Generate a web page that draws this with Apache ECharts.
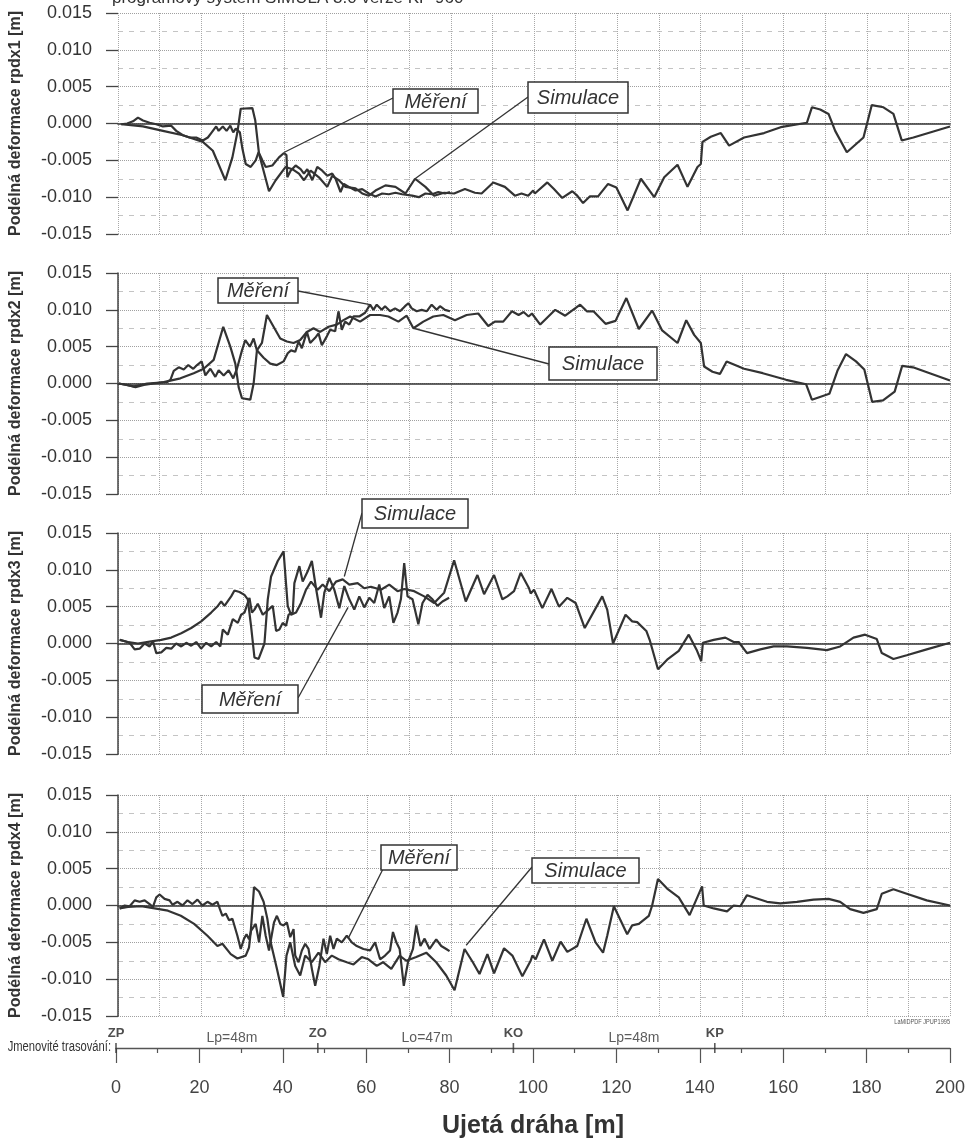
<!DOCTYPE html>
<html><head><meta charset="utf-8">
<script src="https://cdn.jsdelivr.net/npm/echarts@6/dist/echarts.min.js"></script>
<style>html,body{margin:0;padding:0;background:#fff}#c{width:968px;height:1141px}</style>
</head><body><div id="c"></div>
<script>
// ---------- DATA ----------
const yTickMin = -0.015, yTickMax = 0.015, yTickStep = 0.005;
const xMin = 0, xMax = 200;
const yNames = ['Podélná deformace rpdx1 [m]','Podélná deformace rpdx2 [m]','Podélná deformace rpdx3 [m]','Podélná deformace rpdx4 [m]'];
const titleText = 'programový systém SIMULA 3.0 verze KP 960';
const xTitle = 'Ujetá dráha [m]';
const stationNames = ['ZP','ZO','KO','KP'];
const stationPos = [0, 48.4, 95.3, 143.6];
const sectionNames = ['Lp=48m','Lo=47m','Lp=48m'];
const sectionPos = [27.8, 74.6, 124.2];

const sim1 = [[0.8,-0.0001],[6,-0.0004],[10.8,-0.001],[15.6,-0.0016],[20.4,-0.0025],[22.8,-0.0037],[25.8,-0.0077],[27.5,-0.0046],[28.7,-0.0012],[29.5,0.002],[32.3,0.0021],[33,0.0004],[33.9,-0.0041],[36.3,-0.0092],[37.9,-0.0077],[40.3,-0.0059],[41.9,-0.0062],[43.5,-0.0068],[44.7,-0.0077],[46.3,-0.0064],[48.3,-0.0073],[50.3,-0.0086],[51.5,-0.0071],[53.1,-0.0077],[54.7,-0.0086],[57.1,-0.0088],[58.7,-0.0095],[60.3,-0.0098],[61.9,-0.0091],[64.3,-0.0084],[66.7,-0.0086],[69.1,-0.0095],[71.4,-0.0075],[73.9,-0.0086],[76,-0.0098],[78.4,-0.0094],[80.8,-0.0095],[83.4,-0.0089],[85.8,-0.0094],[87.4,-0.0095],[90.2,-0.008],[93,-0.0086],[95.4,-0.0098],[97,-0.0095],[98.6,-0.0098],[99.8,-0.0091],[100.2,-0.0095],[103.2,-0.008],[104.8,-0.0089],[106.8,-0.0101],[109.2,-0.0092],[110.4,-0.0098],[111.8,-0.0108],[113.4,-0.0099],[115.4,-0.0099],[117.8,-0.0082],[119.8,-0.0087],[122.5,-0.0118],[125.7,-0.0075],[128.9,-0.01],[131.3,-0.0073],[134.5,-0.0056],[136.9,-0.0086],[139.3,-0.0059],[140.1,-0.0055],[140.5,-0.0025],[142.5,-0.0018],[144.9,-0.0013],[146.9,-0.003],[150.5,-0.0019],[155.3,-0.0013],[159.3,-0.0005],[165.6,0.0001],[166.8,0.0022],[168.8,0.0019],[170.8,0.0013],[172.4,-0.001],[175.2,-0.0039],[179.2,-0.0019],[181.2,0.0025],[184,0.0022],[186.4,0.0013],[188.4,-0.0023],[191.2,-0.0019],[200,-0.0004]];
const mer1 = [[0.8,-0.0001],[2.2,0],[3.6,0.0003],[4.8,0.0008],[6,0.0004],[7.6,0.0001],[9.2,-0.0001],[10.8,-0.0004],[12.8,-0.0003],[14,-0.001],[15.6,-0.0016],[17.2,-0.0019],[18.8,-0.0019],[20.4,-0.0023],[21.6,-0.0019],[22.4,-0.0013],[23.6,-0.0004],[24.2,-0.001],[25.2,-0.0004],[26.1,-0.001],[27,-0.0003],[27.7,-0.0012],[28.3,-0.0007],[29.3,-0.0012],[29.9,-0.0034],[30.7,-0.0055],[31.9,-0.0059],[33.1,-0.005],[33.8,-0.0039],[34.7,-0.005],[35.5,-0.0059],[37.1,-0.0057],[38.7,-0.0046],[39.9,-0.004],[40.5,-0.0043],[40.7,-0.0073],[41.5,-0.0064],[42.7,-0.0057],[43.9,-0.0062],[44.7,-0.0068],[45.5,-0.0062],[46.7,-0.0077],[47.9,-0.0059],[49.1,-0.0064],[50.3,-0.0071],[51.5,-0.0068],[52.3,-0.0075],[53.5,-0.0093],[54.3,-0.0082],[55.5,-0.0086],[57.1,-0.0091],[58.7,-0.0089],[60.3,-0.0095],[61.9,-0.0099],[63.5,-0.0095],[65.1,-0.0096],[66.7,-0.0094],[68.3,-0.0096],[70.7,-0.0098],[72.3,-0.01],[73.9,-0.0095],[75.5,-0.0096],[77,-0.0093],[78.6,-0.0095],[79.8,-0.0093]];

const sim2 = [[0.2,0],[2.2,-0.0002],[4.2,-0.0005],[6.2,-0.0002],[8.6,0],[11,0.0002],[12.6,0.0004],[15,0.0007],[18.2,0.0014],[20.6,0.002],[23,0.0032],[25.3,0.0077],[27,0.005],[28.2,0.0027],[29,-0.0005],[29.8,-0.002],[31.8,-0.0022],[32.6,0],[33.4,0.0045],[34.6,0.0055],[35.8,0.0093],[37.4,0.0077],[39,0.0061],[40.6,0.0057],[42.2,0.0055],[43.8,0.0059],[45.4,0.007],[47,0.0075],[48.6,0.007],[50.6,0.0077],[52.6,0.008],[54.2,0.0086],[55.8,0.0091],[58.2,0.0084],[60.6,0.0093],[63,0.0093],[65,0.0091],[67.4,0.0084],[69.4,0.0092],[71,0.0075],[73.4,0.0084],[75.8,0.0091],[78.2,0.0093],[81,0.0086],[83.8,0.0093],[86.6,0.0095],[89,0.0078],[90.6,0.0084],[92.6,0.0084],[94.7,0.0098],[96.3,0.0093],[97.5,0.0097],[98.7,0.0091],[99.5,0.0095],[101.5,0.008],[105.1,0.01],[107.5,0.0092],[111.1,0.0107],[112.7,0.0098],[114.3,0.0098],[117.2,0.0081],[119.6,0.0085],[122.2,0.0116],[125.2,0.0074],[128.4,0.0099],[130.8,0.0072],[134.5,0.0055],[136.6,0.0086],[138.5,0.0066],[140.1,0.0055],[140.9,0.0023],[142.9,0.0016],[144.7,0.0013],[146.3,0.003],[150.5,0.002],[155,0.0014],[160.6,0.0005],[165.4,-0.0001],[166.8,-0.0022],[171,-0.0014],[173,0.0018],[175,0.004],[177.4,0.003],[179.4,0.0019],[181.3,-0.0025],[183.9,-0.0023],[186.7,-0.0011],[188.5,0.0024],[191.1,0.0022],[200,0.0004]];
const mer2 = [[0.2,0],[2,-0.0002],[3.8,-0.0004],[5.4,-0.0002],[7,0],[9.4,0.0001],[11.8,0.0002],[12.6,0.0005],[13.4,0.0017],[14.6,0.0022],[15.8,0.0019],[16.9,0.0025],[18.1,0.002],[19,0.0025],[20.1,0.003],[21,0.0011],[22.2,0.002],[23.4,0.0009],[24.2,0.0018],[25.4,0.0011],[26.6,0.0018],[27.7,0.0007],[28.6,0.002],[29.8,0.0045],[30.6,0.0059],[31.7,0.005],[32.6,0.0061],[33.4,0.0045],[35,0.0035],[36.6,0.0027],[38.2,0.0025],[39.8,0.003],[40.8,0.0041],[41.6,0.0045],[42.6,0.0043],[43.4,0.0057],[44.2,0.0048],[45.4,0.007],[46.2,0.0055],[47.4,0.0062],[48.2,0.0068],[49,0.0052],[50.2,0.0064],[51,0.0073],[52.2,0.0071],[53,0.0098],[53.8,0.0073],[54.6,0.0084],[55.6,0.008],[56.6,0.0091],[58,0.0091],[59.4,0.0096],[60.6,0.0107],[61.4,0.01],[62.2,0.0107],[63.4,0.01],[64.2,0.0105],[65.4,0.0098],[66.6,0.0102],[67.8,0.0098],[69,0.0105],[69.8,0.0109],[70.6,0.0102],[71.8,0.0098],[73,0.01],[74.2,0.0098],[75.4,0.0107],[76.6,0.01],[77.4,0.0105],[78.6,0.01],[79.8,0.0098]];

const sim3 = [[0.4,0.0005],[2.4,0.0002],[4.8,0],[8,0.0003],[10.4,0.0005],[12.8,0.0008],[15.2,0.0014],[17.6,0.0021],[20,0.003],[22.4,0.0042],[24,0.0051],[24.8,0.0057],[25.6,0.0051],[27.2,0.0064],[28,0.0072],[29.2,0.007],[30.4,0.0066],[31.2,0.006],[32,0.0023],[32.8,-0.0019],[33.8,-0.0021],[35.2,0],[36,0.006],[36.8,0.0091],[38.4,0.0112],[39.8,0.0125],[40.8,0.0051],[41.6,0.0039],[42.8,0.0042],[44,0.0055],[45.2,0.0073],[46.4,0.0084],[48,0.0073],[49.2,0.008],[50.8,0.0071],[52.4,0.0084],[54,0.0087],[55.6,0.008],[57.6,0.0082],[59.2,0.0075],[60.8,0.0077],[63.2,0.0073],[65.2,0.008],[67.2,0.0071],[68.8,0.0074],[71.2,0.0071],[73.6,0.0064],[76,0.0055],[78.4,0.0069],[80.8,0.0113],[83.6,0.0057],[86.4,0.0093],[88,0.0067],[90.4,0.0093],[92.4,0.006],[93.6,0.0064],[95.2,0.0071],[96.8,0.0096],[98.8,0.0075],[99.2,0.0068],[100,0.0073],[102,0.0048],[104.2,0.0074],[106,0.005],[108,0.0062],[110,0.0055],[112.2,0.0021],[116.4,0.0064],[117.6,0.0046],[119,0],[122,0.0039],[123.6,0.003],[124.8,0.0029],[127,0.0017],[127.8,0.0005],[129.8,-0.0035],[132,-0.0022],[134.8,-0.001],[137.2,0.0012],[139.2,-0.001],[140.2,-0.0024],[140.6,0.0001],[143.2,0.0005],[146,0.0008],[148,0.0002],[149.2,0.0002],[151.2,-0.0013],[154.4,-0.0008],[157.6,-0.0004],[160.8,-0.0004],[165.6,-0.0006],[170.4,-0.0009],[173.6,-0.0004],[176.8,0.0008],[179.6,0.0012],[182.4,0.0006],[183.6,-0.0013],[186.4,-0.0021],[189.6,-0.0016],[194.4,-0.0008],[200,0.0001]];
const mer3 = [[0.4,0.0005],[1.6,0.0003],[2.8,0.0001],[4,-0.0008],[5.2,-0.0007],[6.4,0],[7.6,-0.0004],[8.4,0.0003],[9.2,-0.0013],[10.4,-0.0012],[11.6,-0.0006],[12.8,-0.0007],[14,0],[15.2,-0.0004],[16.4,0.0001],[17.6,-0.0003],[18.8,0.0002],[20,-0.0007],[21.2,0.0001],[22.4,-0.0004],[23.6,0.0002],[24.6,-0.0004],[25.2,0.0019],[26.4,0.0012],[27.6,0.0033],[28.8,0.0028],[29.6,0.0039],[30.4,0.0042],[31.6,0.0062],[32.2,0.0042],[32.8,0.0046],[33.6,0.0054],[34.8,0.0039],[36,0.0045],[37.2,0.0051],[38,0.0017],[38.8,0.0019],[39.6,0.0028],[40.4,0.0024],[41,0.0039],[42,0.0042],[42.4,0.0082],[43.6,0.0105],[44.4,0.0084],[45.6,0.0098],[46.6,0.0112],[47.6,0.0075],[48.8,0.0035],[49.6,0.0069],[50.8,0.0089],[52,0.0073],[53.2,0.0048],[54.4,0.0078],[55.6,0.006],[56.8,0.0046],[58,0.0064],[59.2,0.0049],[60.4,0.0062],[61.6,0.0055],[62.8,0.008],[64,0.0048],[65.2,0.0064],[66.2,0.0028],[67.2,0.0042],[68,0.006],[68.8,0.0109],[69.6,0.0064],[70.8,0.006],[72.2,0.0026],[73.2,0.0055],[74.4,0.0066],[75.6,0.006],[76.8,0.0051],[78,0.0057],[79.6,0.0062]];

const sim4 = [[0.4,-0.0004],[2.4,-0.0002],[5.6,-0.0001],[8.8,-0.0004],[12,-0.0007],[15.1,-0.0014],[18.3,-0.0025],[21.5,-0.0041],[23.9,-0.0055],[25.1,-0.0052],[27.1,-0.0066],[28.7,-0.0072],[30.7,-0.0068],[31.5,-0.0057],[31.9,-0.0036],[32.7,0.0025],[33.9,0.0019],[35,0.0005],[35.9,-0.0018],[36.7,-0.005],[38.2,-0.0086],[39.7,-0.0124],[40.5,-0.0068],[41.4,-0.005],[42.6,-0.0082],[43.8,-0.0095],[45,-0.0068],[46.6,-0.0077],[48.2,-0.0064],[49.8,-0.0077],[51.4,-0.0068],[53,-0.0073],[55,-0.0077],[56.6,-0.008],[58.6,-0.007],[60.2,-0.0073],[62.2,-0.0082],[63.7,-0.0077],[65.7,-0.0086],[67.7,-0.0068],[69.3,-0.0075],[71.7,-0.007],[74.1,-0.0064],[76.5,-0.0077],[78.9,-0.0095],[80.9,-0.0115],[83.3,-0.0059],[85.3,-0.0077],[86.9,-0.0093],[88.8,-0.0066],[90.4,-0.0092],[92.8,-0.0058],[94.8,-0.0068],[97.2,-0.0096],[99.2,-0.0075],[99.6,-0.0068],[100.4,-0.0073],[102.4,-0.0046],[104.4,-0.0075],[106.4,-0.0049],[108,-0.0063],[110.4,-0.0055],[112.6,-0.0018],[114.8,-0.005],[116.6,-0.0064],[117.6,-0.0041],[119.2,-0.0001],[122.4,-0.0039],[123.6,-0.0027],[125.2,-0.0025],[127.6,-0.0014],[128.4,0],[129.8,0.0036],[132,0.0023],[134.8,0.0011],[137.4,-0.0013],[140.4,0.0026],[140.8,0],[143.2,-0.0004],[146.4,-0.0008],[148,0],[149.6,-0.0001],[151.2,0.0014],[156,0.0005],[159.2,0.0003],[163.2,0.0005],[167.2,0.0008],[170.8,0.0009],[173.6,0.0005],[176,-0.0005],[179.2,-0.001],[182.4,-0.0005],[183.6,0.0016],[186.4,0.0022],[189.6,0.0016],[194.4,0.0007],[200,0]];
const mer4 = [[0.4,-0.0004],[1.6,0],[2.8,-0.0001],[4,0.0007],[5.2,0.0005],[6.4,0.0007],[7.6,0.0002],[8.4,-0.0002],[9.2,0.0011],[10,0.0015],[11.2,0.0009],[12.4,0.0007],[13.1,0.0001],[14.3,0.0005],[15.5,0],[16.7,0.0007],[17.9,0.0002],[19.1,0.0008],[20.3,0],[21.5,0.0005],[22.7,0.0001],[23.9,0.0005],[24.5,-0.0005],[25.1,-0.0014],[25.9,-0.0011],[26.7,-0.002],[27.5,-0.0018],[28.7,-0.0041],[29.5,-0.0059],[30.3,-0.0045],[30.9,-0.0039],[31.5,-0.0046],[32,-0.0034],[33.1,-0.0025],[33.9,-0.005],[34.7,-0.0014],[35.5,-0.0041],[36.3,-0.0061],[37.5,-0.0023],[38.2,-0.0014],[39,-0.0025],[39.8,-0.0027],[40.6,-0.0023],[41.4,-0.0043],[42.2,-0.0032],[42.6,-0.0068],[43.4,-0.0077],[44.2,-0.0061],[45,-0.0052],[45.8,-0.0059],[46.6,-0.0086],[47.4,-0.0109],[48.4,-0.0082],[49.4,-0.0045],[50.2,-0.0066],[51,-0.0041],[51.8,-0.0059],[52.6,-0.0045],[53.8,-0.005],[55,-0.0041],[56.2,-0.005],[57.4,-0.0055],[59,-0.0059],[60.6,-0.0061],[61.8,-0.005],[63,-0.0073],[64.2,-0.0068],[65.4,-0.0061],[66.1,-0.0036],[66.9,-0.005],[67.7,-0.0059],[68.7,-0.0109],[69.7,-0.0077],[70.9,-0.0059],[71.7,-0.0027],[72.7,-0.0055],[73.7,-0.0045],[74.9,-0.0059],[76.5,-0.0046],[77.7,-0.0055],[78.9,-0.0059],[79.7,-0.0062]];

const simData = [sim1, sim2, sim3, sim4];
const merData = [mer1, mer2, mer3, mer4];

// annotation anchors (data coords on the curves)
const annotLabels = ['Měření','Simulace','Měření','Simulace','Simulace','Měření','Měření','Simulace'];
const annotPanel  = [0,0,1,1,2,2,3,3];
const annotAnchor = [[40,-0.0039],[71.4,-0.0075],[60.6,0.0107],[71,0.0075],[54.4,0.0091],[55.3,0.0049],[55.3,-0.0045],[83.7,-0.0054]];

// ---------- LAYOUT ----------
const FONT = "'Liberation Sans', Arial, sans-serif";
const LEFT = 116, WIDTH = 834;
const panelTop = [13, 273, 533, 795];
const panelH = 221;
const annotBox = [[393,89,85,24],[528,82,100,31],[218,278,80,25],[549,347,108,33],[362,499,106,29],[202,685,96,28],[381,845,76,25],[532,858,107,25]];
const annotFrom = [[393,98],[528,97],[298,291],[549,364],[362,513],[298,698],[383,869],[532,867]];

const chart = echarts.init(document.getElementById('c'), null, {renderer:'canvas'});

const grids = [], xAxes = [], yAxes = [], series = [];
for (let i = 0; i < 4; i++) {
  grids.push({left: LEFT, width: WIDTH, top: panelTop[i], height: panelH, containLabel: false});
  xAxes.push({
    gridIndex: i, type: 'value', min: xMin, max: xMax, interval: 10,
    axisLine: {show: true, onZero: true, lineStyle: {color: '#333', width: 1.6}},
    axisTick: {show: false}, axisLabel: {show: false},
    splitLine: {show: true, lineStyle: {color: '#a8a8a8', type: 'dotted', width: 1}}
  });
  yAxes.push({
    gridIndex: i, type: 'value', min: yTickMin, max: yTickMax, interval: yTickStep,
    axisLine: {show: i > 0, onZero: false, lineStyle: {color: '#444', width: 1.5}},
    axisTick: {show: true, length: 12, lineStyle: {color: '#444', width: 1.3}},
    axisLabel: {fontSize: 18, color: '#333', margin: 26, fontFamily: FONT,
      formatter: v => (Math.abs(v) < 1e-9 ? 0 : v).toFixed(3)},
    splitLine: {show: true, lineStyle: {color: '#a0a0a0', type: 'dotted', width: 1}},
    minorTick: {show: false, splitNumber: 2},
    minorSplitLine: {show: true, lineStyle: {color: '#c4c4c4', type: [5, 6], width: 1}},
    name: yNames[i], nameLocation: 'middle', nameRotate: 90, nameGap: 94,
    nameTextStyle: {fontSize: 16, fontWeight: 'bold', color: '#333', fontFamily: FONT}
  });
  series.push({type: 'line', name: 'Simulace', xAxisIndex: i, yAxisIndex: i, data: simData[i],
    showSymbol: false, symbol: 'none', lineStyle: {color: '#333', width: 2.2}, z: 3, silent: true});
  series.push({type: 'line', name: 'Měření', xAxisIndex: i, yAxisIndex: i, data: merData[i],
    showSymbol: false, symbol: 'none', lineStyle: {color: '#333', width: 2.2}, z: 4, silent: true});
}
// bottom station axis
grids.push({left: LEFT, width: WIDTH, top: 1000, height: 48});
xAxes.push({
  gridIndex: 4, type: 'value', min: xMin, max: xMax, interval: 20,
  axisLine: {show: true, onZero: false, lineStyle: {color: '#555', width: 1.3}},
  axisTick: {show: true, length: 15, lineStyle: {color: '#555', width: 1.2}},
  minorTick: {show: true, splitNumber: 2, length: 5, lineStyle: {color: '#555', width: 1.2}},
  axisLabel: {fontSize: 18, color: '#444', margin: 31, fontFamily: FONT},
  splitLine: {show: false},
  name: xTitle, nameLocation: 'middle', nameGap: 66,
  nameTextStyle: {fontSize: 25, fontWeight: 'bold', color: '#333', fontFamily: FONT}
});
yAxes.push({gridIndex: 4, type: 'value', min: 0, max: 1, show: false});
series.push({type: 'scatter', xAxisIndex: 4, yAxisIndex: 4, silent: true,
  data: stationNames.map((n, k) => ({name: n, value: [stationPos[k], 0]})),
  symbol: 'rect', symbolSize: [1.6, 10], itemStyle: {color: '#333'},
  label: {show: true, position: 'top', distance: 3, formatter: '{b}', fontSize: 13, fontWeight: 'bold', color: '#222', fontFamily: FONT}
});
series.push({type: 'scatter', xAxisIndex: 4, yAxisIndex: 4, silent: true,
  data: sectionNames.map((n, k) => ({name: n, value: [sectionPos[k], 0]})),
  symbol: 'rect', symbolSize: 1, itemStyle: {color: 'rgba(0,0,0,0)'},
  label: {show: true, position: 'top', distance: 2, formatter: '{b}', fontSize: 14, color: '#333', fontFamily: FONT}
});

chart.setOption({
  backgroundColor: '#ffffff',
  animation: false,
  grid: grids, xAxis: xAxes, yAxis: yAxes, series: series
});

// ---------- graphics (title, captions, annotation boxes) ----------
const g = [];
g.push({type: 'text', x: 112, y: 7, silent: true,
  style: {text: titleText, font: '17px ' + FONT, fill: '#333', textVerticalAlign: 'bottom'}});
g.push({type: 'text', x: 111, y: 1047, scaleX: 0.8, silent: true,
  style: {text: 'Jmenovité trasování:', x: 0, y: 0, font: '14px ' + FONT, fill: '#333', textAlign: 'right', textVerticalAlign: 'middle'}});
g.push({type: 'text', x: 950, y: 1022, scaleX: 0.8, silent: true,
  style: {text: 'LaMiDPDF JPUP1995', x: 0, y: 0, font: '7px ' + FONT, fill: '#555', textAlign: 'right', textVerticalAlign: 'middle'}});
for (let k = 0; k < annotLabels.length; k++) {
  const p = chart.convertToPixel({gridIndex: annotPanel[k]}, annotAnchor[k]);
  const f = annotFrom[k], b = annotBox[k];
  g.push({type: 'line', silent: true, z: 10,
    shape: {x1: f[0], y1: f[1], x2: p[0], y2: p[1]},
    style: {stroke: '#333', lineWidth: 1.3}});
  g.push({type: 'rect', silent: true, z: 11,
    shape: {x: b[0], y: b[1], width: b[2], height: b[3]},
    style: {fill: '#fff', stroke: '#333', lineWidth: 1.5}});
  g.push({type: 'text', silent: true, z: 12, x: b[0] + b[2] / 2, y: b[1] + b[3] / 2 + 1,
    style: {text: annotLabels[k], font: 'italic 20px ' + FONT, fill: '#333', textAlign: 'center', textVerticalAlign: 'middle'}});
}
chart.setOption({graphic: g});
</script>
</body></html>
